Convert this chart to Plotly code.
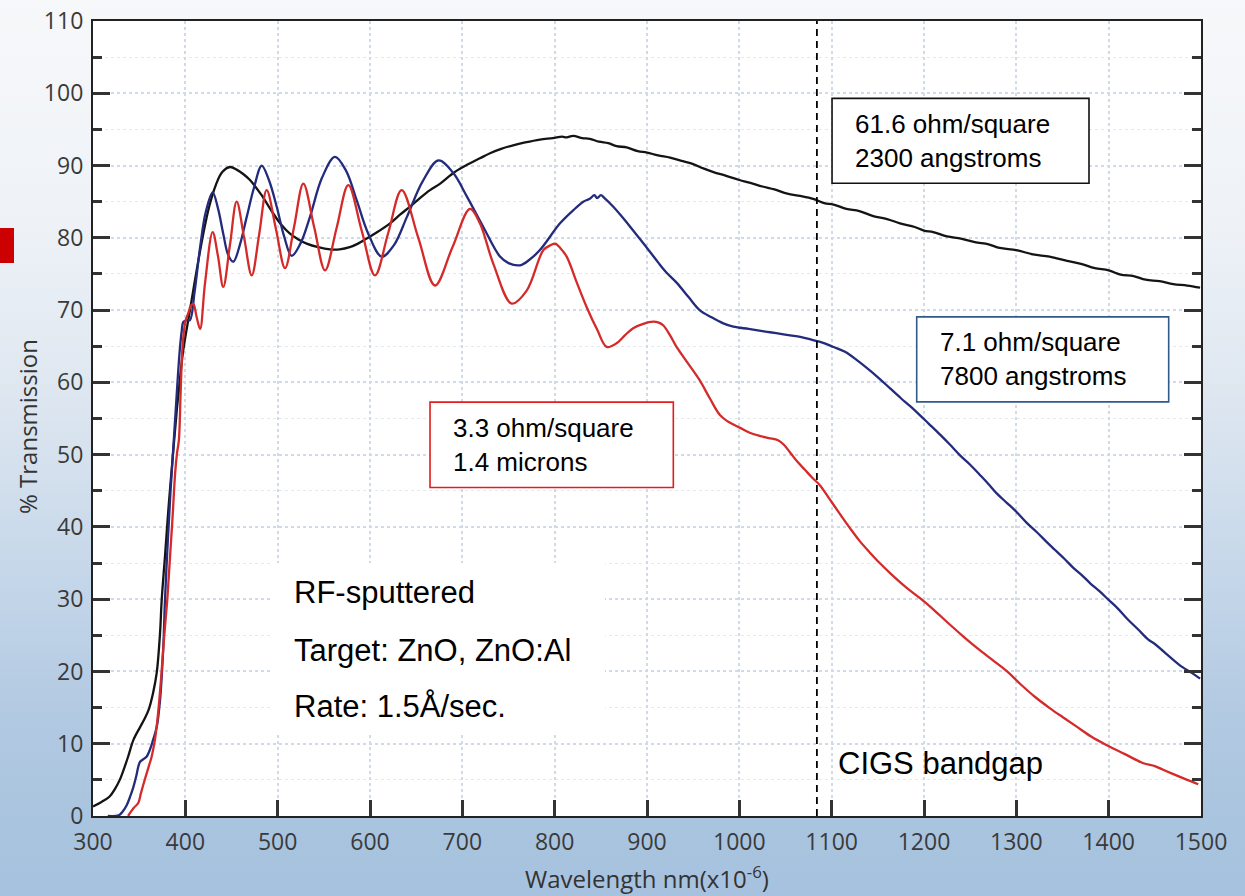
import base64
import plotly.graph_objects as go

# ---------------------------------------------------------------- data
# 61.6 ohm/square, 2300 angstroms
black_wl = [300, 310, 318, 324, 329, 334, 338, 343.7, 351, 356, 360, 365, 369, 372.6, 374.4,
            378, 382, 386.6, 391, 395, 397.8, 405, 412, 419.5, 426, 433, 440, 448.4, 456, 463,
            470, 482, 495, 504, 513, 522, 531.4, 544, 556.7, 567, 578, 587, 596.4, 608, 621.7,
            632.5, 643.3, 655, 665, 676, 686.6, 694, 705, 719, 730, 742, 755, 768, 784, 798,
            808, 813, 820, 830, 838, 848, 858, 867, 878, 890, 900, 912, 925, 939, 950, 961,
            972, 985, 1000, 1012, 1025, 1038, 1052, 1066, 1080, 1092, 1102, 1116, 1130, 1145,
            1160, 1174, 1190, 1200, 1210, 1225, 1240, 1255, 1270, 1282, 1300, 1318, 1336, 1355,
            1370, 1385, 1400, 1413, 1427, 1440, 1455, 1470, 1485, 1499]
black_t = [1.3, 2.0, 2.7, 3.8, 5.0, 6.7, 8.2, 10.5, 12.3, 13.5, 14.6, 17.0, 19.8, 25.3, 29.9,
           36, 43, 50, 56.5, 61.5, 64.5, 70, 75.3, 80.6, 84.4, 87.3, 89.1, 89.8, 89.4, 88.8,
           88, 86, 83.4, 81.8, 80.6, 79.8, 79.2, 78.7, 78.4, 78.4, 78.7, 79.2, 79.9, 80.8, 82.0,
           83.2, 84.3, 85.6, 86.6, 87.5, 88.6, 89.3, 90.1, 91.0, 91.7, 92.3, 92.8, 93.2, 93.6, 93.8,
           94.0, 93.9, 94.1, 93.8, 93.7, 93.3, 93.1, 92.7, 92.5, 92.0, 91.8, 91.4, 91.1, 90.6, 90.2, 89.6,
           89.1, 88.6, 88.0, 87.6, 87.1, 86.7, 86.1, 85.8, 85.4, 84.8, 84.6, 84.0, 83.7, 83.0,
           82.6, 82.0, 81.5, 81.0, 80.8, 80.2, 79.9, 79.4, 79.1, 78.6, 78.3, 77.7, 77.4, 76.8,
           76.4, 75.8, 75.5, 74.9, 74.7, 74.2, 74.0, 73.6, 73.4, 73.1]

# 7.1 ohm/square, 7800 angstroms
blue_wl = [316, 328, 332, 336.5, 340, 343.7, 347, 349, 351, 355, 358, 362, 365, 369, 372.6, 376,
           378, 381, 384, 387, 390, 392, 394, 396, 398, 402, 405, 410, 416, 422, 429.6,
           435.5, 441, 446.5, 452, 459, 466.5, 474.5, 482.7, 490.5, 499, 507, 515.2, 525, 535, 548, 562,
           574, 585.6, 598, 612.7, 626, 640, 657, 674, 690, 705, 722.7, 740.8, 750, 762.5, 773, 784, 805.8,
           820, 831, 838, 843, 846, 850, 854, 863.5, 875, 885, 900, 912, 921, 932, 945, 957,
           970, 982, 993.5, 1010, 1020, 1030, 1040, 1055, 1066, 1078, 1090, 1102, 1115, 1128,
           1138, 1151, 1163, 1175, 1185, 1196, 1205, 1218, 1228, 1239, 1250, 1262, 1270, 1279,
           1290, 1300, 1311, 1322, 1333, 1342, 1352, 1362, 1372, 1380, 1390, 1400, 1410, 1420,
           1432, 1443, 1450, 1460, 1470, 1480, 1490, 1499]
blue_t = [0, 0.1, 0.6, 1.5, 2.6, 4.0, 5.6, 6.8, 7.5, 7.9, 8.2, 9.3, 10.5, 12.3, 16, 23,
          30, 38, 45, 51, 57, 61, 64.5, 67, 68.4, 68.6, 68.6, 72.5, 78.7, 83.5, 86.3,
          84.0, 80.6, 77.6, 76.7, 79.0, 82.9, 87.0, 90.0, 88.0, 84.3, 80.2, 77.5, 79.3, 82.9, 88.3, 91.2,
          89.3, 85.2, 80.6, 77.4, 79.0, 82.9, 87.8, 90.7, 89.0, 85.7, 81.5, 77.4, 76.5, 76.2, 77.0, 78.3, 82,
          83.8, 85, 85.4, 85.9, 85.5, 85.9, 85.5, 84.3, 82.6, 81, 78.6, 76.6, 75.2, 73.8, 71.8, 70,
          69, 68.2, 67.7, 67.4, 67.2, 67.0, 66.8, 66.5, 66.3, 65.9, 65.5, 64.9, 64.2, 63.0,
          62.0, 60.6, 59.2, 57.8, 56.7, 55.4, 54.3, 52.7, 51.4, 49.9, 48.6, 47.0, 45.9, 44.6,
          43.3, 42.1, 40.6, 39.3, 37.9, 36.8, 35.6, 34.3, 33.2, 32.2, 31.1, 29.9, 28.7, 27.3,
          25.8, 24.4, 23.8, 22.7, 21.6, 20.6, 19.8, 19.0]

# 3.3 ohm/square, 1.4 microns
red_wl = [338, 344, 349, 352, 356, 360, 363.5, 367, 369.5, 371.8, 374, 376, 378.5, 380.5, 383,
          386, 389, 391, 393, 395, 397, 400, 403, 406, 408.6, 412.3, 416, 421.3, 429.6, 435.3,
          441.1, 448.3, 455.6, 463.7, 471.9, 480.0, 488.1, 498.0, 508.0, 517.9, 527.8, 539.5, 551.3, 563.9,
          576.5, 591.0, 605.4, 619.8, 634.3, 652.3, 670.4, 689.3, 708.3, 719, 733.6, 753.5, 769.7,
          787.8, 796, 800.4, 806, 813, 824, 834.7, 846, 856.4, 867, 876, 885, 896, 906.7, 912,
          917.5, 925, 932, 944, 957, 968, 979, 990, 1001, 1012, 1022, 1032, 1042, 1048, 1055,
          1063, 1071, 1079, 1087, 1098, 1110, 1120, 1130, 1141, 1152, 1165, 1180, 1196, 1210,
          1227, 1243, 1258, 1273, 1290, 1304, 1320, 1336.5, 1350, 1365, 1381, 1398, 1417,
          1437.6, 1450, 1459, 1470, 1485, 1497]
red_t = [0, 1.1, 1.8, 3.2, 5.0, 6.7, 8.2, 10.5, 13, 16, 19.5, 23, 27, 30, 35,
         41, 47.5, 50.2, 52, 59, 65, 68.4, 69.5, 70.6, 70.9, 69, 67.4, 73.7, 80.8, 77.5,
         73.2, 79.0, 85.0, 80.0, 74.8, 80.5, 86.6, 81.3, 75.8, 81.6, 87.5, 81.5, 75.5, 81.4,
         87.3, 81.0, 74.8, 80.7, 86.6, 80.0, 73.4, 78.7, 84.0, 82, 76.4, 70.9, 72.7,
         78.3, 79.0, 79.2, 78.6, 77.4, 73.8, 70.4, 67.3, 64.9, 65.4, 66.5, 67.5, 68.1, 68.4, 68.3,
         67.9, 66.5, 64.9, 62.7, 60.3, 57.8, 55.5, 54.4, 53.7, 53.0, 52.6, 52.3, 52.0, 51.4, 50.3,
         49.0, 47.9, 46.8, 45.8, 43.8, 41.6, 39.8, 38.1, 36.5, 35.0, 33.4, 31.7, 30.1, 28.6,
         26.6, 24.8, 23.2, 21.7, 20.0, 18.3, 16.5, 14.9, 13.7, 12.4, 11.0, 9.8, 8.6,
         7.3, 6.9, 6.4, 5.8, 5.0, 4.4]

bandgap_nm = 1084
x_ticks = list(range(300, 1501, 100))
y_ticks = list(range(0, 111, 10))

# ---------------------------------------------------------------- style
W, H = 1245, 896
ML, MR, MT, MB = 93, 44, 21, 80
PW, PH = W - ML - MR, H - MT - MB

LABEL_FAMILY = "Open Sans, Noto Sans, sans-serif"
TICK_FONT = dict(family=LABEL_FAMILY, size=23, color="#3a3a3a")
TEXT_FONT = "Liberation Sans, Arial, sans-serif"
GRID = "#cfdbeb"
GRID_MINOR = "#e1e9f3"
AXIS = "#222222"

# vertical background wash, white at the top fading to light blue
svg = (
    f"<svg xmlns='http://www.w3.org/2000/svg' width='{W}' height='{H}' preserveAspectRatio='none'>"
    "<defs><linearGradient id='g' x1='0' y1='0' x2='0' y2='1'>"
    "<stop offset='0' stop-color='#f7f8fa'/>"
    "<stop offset='0.25' stop-color='#eef2f7'/>"
    "<stop offset='0.45' stop-color='#dde6f0'/>"
    "<stop offset='0.65' stop-color='#c4d6e9'/>"
    "<stop offset='0.8' stop-color='#b2c9e2'/>"
    "<stop offset='0.92' stop-color='#a9c4df'/>"
    "<stop offset='1' stop-color='#a7c2de'/>"
    "</linearGradient></defs>"
    f"<rect width='{W}' height='{H}' fill='url(#g)'/></svg>"
)
bg_src = "data:image/svg+xml;base64," + base64.b64encode(svg.encode()).decode()

fig = go.Figure()

for wl, t, col in [(black_wl, black_t, "#141414"),
                   (blue_wl, blue_t, "#232b7c"),
                   (red_wl, red_t, "#d42a2a")]:
    fig.add_trace(go.Scatter(x=wl, y=t, mode="lines",
                             line=dict(color=col, width=2.3, shape="spline", smoothing=1.0),
                             showlegend=False, hoverinfo="skip"))

# empty trace that carries the right-hand tick axis
fig.add_trace(go.Scatter(x=[None], y=[None], yaxis="y2", showlegend=False))

shapes = [
    # white plotting area
    dict(type="rect", xref="paper", yref="paper", x0=0, x1=1, y0=0, y1=1,
         fillcolor="white", line=dict(width=0), layer="below"),
    # red marker at the left page edge
    dict(type="rect", xref="paper", yref="paper",
         x0=-ML / PW, x1=(14 - ML) / PW, y0=(816 - 263) / PH, y1=(816 - 228) / PH,
         fillcolor="#cc0000", line=dict(width=0), layer="above"),
    # band-gap marker
    dict(type="line", xref="x", yref="y", x0=bandgap_nm, x1=bandgap_nm, y0=0, y1=110,
         line=dict(color="black", width=1.8, dash="7px,5px"), layer="above"),
    # deposition note background
    dict(type="rect", xref="x", yref="y", x0=493.5, x1=854.5, y0=11.2, y1=35,
         fillcolor="white", line=dict(width=0), layer="above"),
    # series label boxes
    dict(type="rect", xref="x", yref="y", x0=1100.4, x1=1378.7, y0=87.55, y1=99.3,
         fillcolor="white", line=dict(color="#111111", width=1.6), layer="above"),
    dict(type="rect", xref="x", yref="y", x0=1192.1, x1=1465.0, y0=57.3, y1=69.06,
         fillcolor="white", line=dict(color="#2f5a8a", width=1.6), layer="above"),
    dict(type="rect", xref="x", yref="y", x0=665.0, x1=928.5, y0=45.46, y1=57.26,
         fillcolor="white", line=dict(color="#e31c1c", width=1.6), layer="above"),
]

def note(x, y, text, size):
    return dict(x=x, y=y, xref="x", yref="y", text=text, showarrow=False,
                xanchor="left", yanchor="middle", align="left",
                font=dict(family=TEXT_FONT, size=size, color="black"))

annotations = [
    note(1123.1, 93.4, "61.6 ohm/square<br>2300 angstroms", 26),
    note(1214.8, 63.2, "7.1 ohm/square<br>7800 angstroms", 26),
    note(687.4, 51.35, "3.3 ohm/square<br>1.4 microns", 26),
    note(515.2, 30.9, "RF-sputtered", 31),
    note(515.2, 22.85, "Target: ZnO, ZnO:Al", 31),
    note(515.2, 15.1, "Rate: 1.5Å/sec.", 31),
    note(1104.7, 7.2, "CIGS bandgap", 31),
    # axis titles
    dict(x=0.5, y=(816 - 877) / PH, xref="paper", yref="paper", showarrow=False,
         text="Wavelength nm(x10<sup>-6</sup>)", xanchor="center", yanchor="middle",
         font=dict(family=LABEL_FAMILY, size=24, color="#333333")),
    dict(x=(27 - ML) / PW, y=(816 - 427) / PH, xref="paper", yref="paper", showarrow=False,
         text="% Transmission", textangle=-90, xanchor="center", yanchor="middle",
         font=dict(family=LABEL_FAMILY, size=24, color="#333333")),
]

fig.update_layout(
    width=W, height=H, autosize=False,
    margin=dict(l=ML, r=MR, t=MT, b=MB, pad=0, autoexpand=False),
    paper_bgcolor="#a9c4df", plot_bgcolor="rgba(0,0,0,0)",
    images=[dict(source=bg_src, xref="paper", yref="paper",
                 x=-ML / PW, y=1 + MT / PH, sizex=W / PW, sizey=H / PH,
                 xanchor="left", yanchor="top", sizing="stretch", layer="below")],
    shapes=shapes, annotations=annotations,
    xaxis=dict(range=[300, 1500], tickvals=x_ticks, ticktext=[str(v) for v in x_ticks],
               ticks="inside", ticklen=16, tickwidth=2.5, tickcolor="#333333",
               showline=True, linecolor=AXIS, linewidth=2.2, mirror=True,
               showgrid=True, gridcolor=GRID, gridwidth=1.5, griddash="dot",
               zeroline=False, tickfont=TICK_FONT, ticklabelstandoff=4, automargin=False),
    yaxis=dict(range=[0, 110], tickvals=y_ticks, ticktext=[str(v) for v in y_ticks],
               ticks="inside", ticklen=17, tickwidth=2.5, tickcolor="#333333",
               showline=True, linecolor=AXIS, linewidth=2.2, mirror=True,
               showgrid=True, gridcolor=GRID, gridwidth=1.5, griddash="dot",
               minor=dict(dtick=5, ticks="inside", ticklen=9, tickwidth=2.5, tickcolor="#333333",
                          showgrid=True, gridcolor=GRID_MINOR, gridwidth=1.3, griddash="dot"),
               zeroline=False, tickfont=TICK_FONT, ticklabelstandoff=3, automargin=False),
    yaxis2=dict(range=[0, 110], overlaying="y", side="right", tickvals=y_ticks,
                ticks="inside", ticklen=17, tickwidth=2.5, tickcolor="#333333",
                showticklabels=False, showgrid=False, showline=False, zeroline=False,
                automargin=False,
                minor=dict(dtick=5, ticks="inside", ticklen=9, tickwidth=2.5, tickcolor="#333333")),
)

fig.write_html("out.html")
